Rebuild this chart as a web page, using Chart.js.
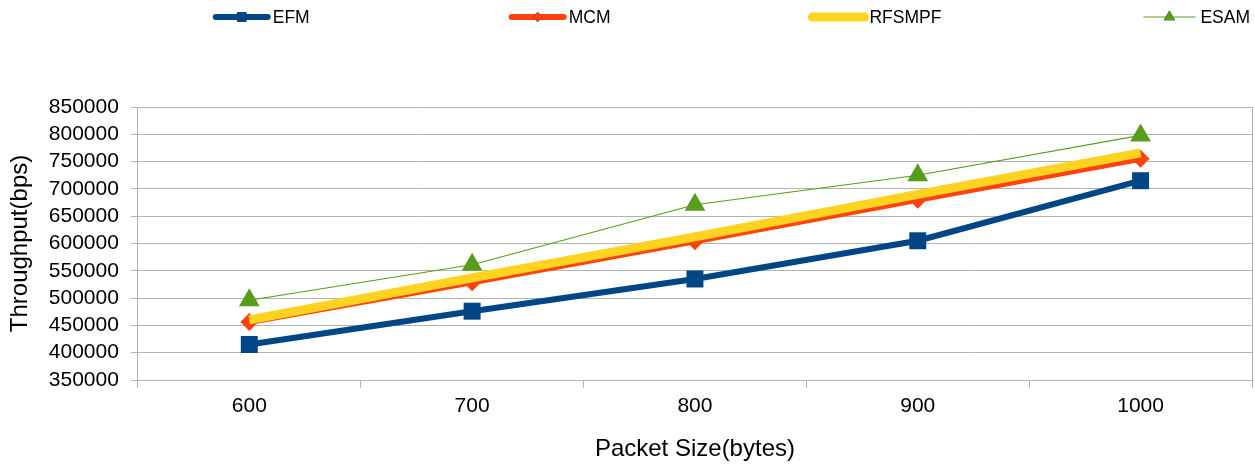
<!DOCTYPE html>
<html>
<head>
<meta charset="utf-8">
<script src="https://cdn.jsdelivr.net/npm/chart.js@4.4.0/dist/chart.umd.min.js"></script>
<style>
  html, body { margin: 0; padding: 0; background: #fff; }
  #wrap { width: 1255px; height: 464px; }
</style>
</head>
<body>
<div id="wrap"><canvas id="throughputChart"></canvas></div>
<script>
// packet sizes on the x axis
const packetSizes = ["600", "700", "800", "900", "1000"];

// throughput values (bps)
const efm    = [415000, 476000, 535000, 605000, 715000];
const mcm    = [456000, 529000, 604000, 680000, 755000];
const rfsmpf = [460000, 537000, 612000, 690000, 766000];
const esam   = [496000, 561000, 671000, 725000, 798000];

const yMin = 350000, yMax = 850000, yStep = 50000;

const FONT = "'Liberation Sans', Arial, sans-serif";
const gridGrey = '#b3b3b3';

// legend spread across the top like the office-style original
const topLegend = {
    id: 'topLegend',
    afterDraw(chart) {
        const ctx = chart.ctx;
        const sets = chart.data.datasets;
        const lineLen = 56, gap = 200, textPad = 3, cy = 17;
        ctx.save();
        ctx.font = '17.5px ' + FONT;
        const widths = sets.map(ds => lineLen + textPad + ctx.measureText(ds.label).width);
        const total = widths.reduce((a, b) => a + b, 0) + gap * (sets.length - 1);
        let x = chart.width - 5 - total;
        sets.forEach((ds, i) => {
            ctx.strokeStyle = ds.borderColor;
            ctx.lineWidth = ds.borderWidth;
            ctx.lineCap = ds.borderWidth > 2 ? 'round' : 'butt';
            ctx.beginPath();
            ctx.moveTo(x + 2, cy);
            ctx.lineTo(x + lineLen - 2, cy);
            ctx.stroke();
            if (ds.pointRadius > 0) {
                Chart.helpers.drawPoint(ctx, {
                    pointStyle: ds.pointStyle,
                    radius: ds.pointRadius * 0.55,
                    borderWidth: 0
                }, x + lineLen / 2, cy);
                ctx.fillStyle = ds.pointBackgroundColor;
                ctx.fill();
            }
            ctx.fillStyle = '#000';
            ctx.textBaseline = 'middle';
            ctx.textAlign = 'left';
            ctx.fillText(ds.label, x + lineLen + textPad, cy + 1);
            x += widths[i] + gap;
        });
        ctx.restore();
    }
};

// thin frame line on the right side of the plot
const rightEdge = {
    id: 'rightEdge',
    beforeDatasetsDraw(chart) {
        const { ctx, chartArea } = chart;
        ctx.save();
        ctx.strokeStyle = gridGrey;
        ctx.lineWidth = 1;
        ctx.beginPath();
        ctx.moveTo(chartArea.right + 0.5, chartArea.top);
        ctx.lineTo(chartArea.right + 0.5, chartArea.bottom);
        ctx.stroke();
        ctx.restore();
    }
};

const chartData = {
    labels: packetSizes,
    datasets: [
        {
            label: 'EFM', data: efm, order: 4,
            borderColor: '#004586', backgroundColor: '#004586',
            pointBackgroundColor: '#004586', pointBorderWidth: 0,
            borderWidth: 6, pointStyle: 'rect', pointRadius: 12
        },
        {
            label: 'MCM', data: mcm, order: 3,
            borderColor: '#ff420e', backgroundColor: '#ff420e',
            pointBackgroundColor: '#ff420e', pointBorderWidth: 0,
            borderWidth: 6, pointStyle: 'rectRot', pointRadius: 9
        },
        {
            label: 'RFSMPF', data: rfsmpf, order: 2,
            borderColor: '#ffd320', backgroundColor: '#ffd320',
            pointBackgroundColor: '#ffd320', pointBorderWidth: 0,
            borderWidth: 9, pointStyle: 'rect', pointRadius: 0
        },
        {
            label: 'ESAM', data: esam, order: 1,
            borderColor: '#579d1c', backgroundColor: '#579d1c',
            pointBackgroundColor: '#579d1c', pointBorderWidth: 0,
            borderWidth: 1.1, pointStyle: 'triangle', pointRadius: 12
        }
    ]
};

const config = {
    type: 'line',
    data: chartData,
    options: {
        responsive: true,
        maintainAspectRatio: false,
        animation: false,
        elements: { line: { tension: 0 } },
        layout: {
            autoPadding: false,
            padding: { top: 107, left: 0, right: 3, bottom: 0 }
        },
        plugins: {
            legend: { display: false },
            tooltip: { enabled: false }
        },
        scales: {
            x: {
                offset: true,
                grid: {
                    offset: true,
                    drawOnChartArea: false,
                    color: gridGrey,
                    tickLength: 8
                },
                border: { color: gridGrey },
                ticks: { color: '#000', font: { family: FONT, size: 21 }, padding: 6 },
                title: {
                    display: true, text: 'Packet Size(bytes)', color: '#000',
                    font: { family: FONT, size: 24 }, padding: { top: 10, bottom: 0 }
                }
            },
            y: {
                min: yMin, max: yMax,
                grid: { color: gridGrey, tickLength: 7 },
                border: { color: gridGrey },
                ticks: {
                    stepSize: yStep, autoSkip: false, color: '#000', padding: 12,
                    font: { family: FONT, size: 21 },
                    callback: v => String(v)
                },
                title: {
                    display: true, text: 'Throughput(bps)', color: '#000',
                    font: { family: FONT, size: 24 }, padding: { top: 6, bottom: 2 }
                }
            }
        }
    },
    plugins: [rightEdge, topLegend]
};

const throughputChart = new Chart(
    document.getElementById('throughputChart'),
    config
);
</script>
</body>
</html>
